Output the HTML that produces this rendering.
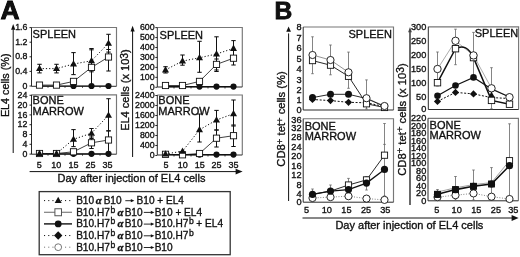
<!DOCTYPE html>
<html><head><meta charset="utf-8"><style>
html,body{margin:0;padding:0;background:#fff;}
svg{display:block;font-family:"Liberation Sans", sans-serif;will-change:transform;}
text{stroke:#111;stroke-width:0.34px;}
</style></head><body>
<svg width="520" height="257" viewBox="0 0 520 257">
<rect width="520" height="257" fill="#fff"/>
<text x="0" y="0" font-size="25" text-anchor="start" font-weight="bold" fill="#111" style="stroke:#000;stroke-width:0.8px" transform="translate(0.6,18.8) scale(1.06,1)">A</text>
<line x1="13.2" y1="29.3" x2="13.2" y2="153" stroke="#111" stroke-width="1" />
<polygon points="13.2,24.1 11.1,29.8 15.299999999999999,29.8" fill="#111"/>
<text transform="translate(8.6,85.3) rotate(-90)" font-size="10.8" text-anchor="middle" fill="#111">EL4 cells (%)</text>
<line x1="132.6" y1="30.9" x2="132.6" y2="157" stroke="#111" stroke-width="1" />
<polygon points="132.6,25.8 130.5,31.4 134.7,31.4" fill="#111"/>
<text transform="translate(128.8,90.1) rotate(-90)" font-size="11" text-anchor="middle" fill="#111">EL4 cells (x 10<tspan dy="-1.3" font-size="10.2">3</tspan><tspan dy="1.3">)</tspan></text>
<path d="M31.5,27.5 H116.5 V86.3" fill="none" stroke="#777" stroke-width="1.15"/>
<path d="M31.5,27.5 V86.3 H116.5" fill="none" stroke="#2a2a2a" stroke-width="1.0"/>
<line x1="29.5" y1="27.6" x2="31.5" y2="27.6" stroke="#111" stroke-width="0.9" />
<text x="27.4" y="30.200000000000003" font-size="8.8" text-anchor="end" font-weight="normal" fill="#111" >1.6</text>
<line x1="29.5" y1="42.2" x2="31.5" y2="42.2" stroke="#111" stroke-width="0.9" />
<text x="27.4" y="44.800000000000004" font-size="8.8" text-anchor="end" font-weight="normal" fill="#111" >1.2</text>
<line x1="29.5" y1="56.8" x2="31.5" y2="56.8" stroke="#111" stroke-width="0.9" />
<text x="27.4" y="59.4" font-size="8.8" text-anchor="end" font-weight="normal" fill="#111" >0.8</text>
<line x1="29.5" y1="71.4" x2="31.5" y2="71.4" stroke="#111" stroke-width="0.9" />
<text x="27.4" y="74.0" font-size="8.8" text-anchor="end" font-weight="normal" fill="#111" >0.4</text>
<line x1="29.5" y1="86.0" x2="31.5" y2="86.0" stroke="#111" stroke-width="0.9" />
<text x="27.4" y="88.6" font-size="8.8" text-anchor="end" font-weight="normal" fill="#111" >0</text>
<text x="32.6" y="37.6" font-size="11" text-anchor="start" font-weight="normal" fill="#111" >SPLEEN</text>
<path d="M31.5,94.8 H116.5 V154.2" fill="none" stroke="#777" stroke-width="1.15"/>
<path d="M31.5,94.8 V154.2 H116.5" fill="none" stroke="#2a2a2a" stroke-width="1.0"/>
<line x1="29.5" y1="95.3" x2="31.5" y2="95.3" stroke="#111" stroke-width="0.9" />
<text x="27.4" y="97.89999999999999" font-size="8.8" text-anchor="end" font-weight="normal" fill="#111" >24</text>
<line x1="29.5" y1="105.1" x2="31.5" y2="105.1" stroke="#111" stroke-width="0.9" />
<text x="27.4" y="107.69999999999999" font-size="8.8" text-anchor="end" font-weight="normal" fill="#111" >20</text>
<line x1="29.5" y1="114.9" x2="31.5" y2="114.9" stroke="#111" stroke-width="0.9" />
<text x="27.4" y="117.5" font-size="8.8" text-anchor="end" font-weight="normal" fill="#111" >16</text>
<line x1="29.5" y1="124.7" x2="31.5" y2="124.7" stroke="#111" stroke-width="0.9" />
<text x="27.4" y="127.3" font-size="8.8" text-anchor="end" font-weight="normal" fill="#111" >12</text>
<line x1="29.5" y1="134.5" x2="31.5" y2="134.5" stroke="#111" stroke-width="0.9" />
<text x="27.4" y="137.1" font-size="8.8" text-anchor="end" font-weight="normal" fill="#111" >8</text>
<line x1="29.5" y1="144.3" x2="31.5" y2="144.3" stroke="#111" stroke-width="0.9" />
<text x="27.4" y="146.9" font-size="8.8" text-anchor="end" font-weight="normal" fill="#111" >4</text>
<line x1="29.5" y1="154.1" x2="31.5" y2="154.1" stroke="#111" stroke-width="0.9" />
<text x="27.4" y="156.7" font-size="8.8" text-anchor="end" font-weight="normal" fill="#111" >0</text>
<text x="32.6" y="104.3" font-size="11" text-anchor="start" font-weight="normal" fill="#111" >BONE</text>
<text x="32.6" y="114.6" font-size="11" text-anchor="start" font-weight="normal" fill="#111" >MARROW</text>
<path d="M157.3,27.5 H242.3 V87.0" fill="none" stroke="#777" stroke-width="1.15"/>
<path d="M157.3,27.5 V87.0 H242.3" fill="none" stroke="#2a2a2a" stroke-width="1.0"/>
<line x1="155.3" y1="27.6" x2="157.3" y2="27.6" stroke="#111" stroke-width="0.9" />
<text x="154.6" y="30.200000000000003" font-size="8.8" text-anchor="end" font-weight="normal" fill="#111" >600</text>
<line x1="155.3" y1="37.55" x2="157.3" y2="37.55" stroke="#111" stroke-width="0.9" />
<text x="154.6" y="40.15" font-size="8.8" text-anchor="end" font-weight="normal" fill="#111" >500</text>
<line x1="155.3" y1="47.5" x2="157.3" y2="47.5" stroke="#111" stroke-width="0.9" />
<text x="154.6" y="50.1" font-size="8.8" text-anchor="end" font-weight="normal" fill="#111" >400</text>
<line x1="155.3" y1="57.45" x2="157.3" y2="57.45" stroke="#111" stroke-width="0.9" />
<text x="154.6" y="60.050000000000004" font-size="8.8" text-anchor="end" font-weight="normal" fill="#111" >300</text>
<line x1="155.3" y1="67.4" x2="157.3" y2="67.4" stroke="#111" stroke-width="0.9" />
<text x="154.6" y="70.0" font-size="8.8" text-anchor="end" font-weight="normal" fill="#111" >200</text>
<line x1="155.3" y1="77.35" x2="157.3" y2="77.35" stroke="#111" stroke-width="0.9" />
<text x="154.6" y="79.94999999999999" font-size="8.8" text-anchor="end" font-weight="normal" fill="#111" >100</text>
<line x1="155.3" y1="87.3" x2="157.3" y2="87.3" stroke="#111" stroke-width="0.9" />
<text x="154.6" y="89.89999999999999" font-size="8.8" text-anchor="end" font-weight="normal" fill="#111" >0</text>
<text x="159.6" y="39.0" font-size="11" text-anchor="start" font-weight="normal" fill="#111" >SPLEEN</text>
<path d="M157.3,95.0 H242.3 V155.0" fill="none" stroke="#777" stroke-width="1.15"/>
<path d="M157.3,95.0 V155.0 H242.3" fill="none" stroke="#2a2a2a" stroke-width="1.0"/>
<line x1="155.3" y1="95.5" x2="157.3" y2="95.5" stroke="#111" stroke-width="0.9" />
<text x="154.6" y="98.1" font-size="8.8" text-anchor="end" font-weight="normal" fill="#111" >2400</text>
<line x1="155.3" y1="105.5" x2="157.3" y2="105.5" stroke="#111" stroke-width="0.9" />
<text x="154.6" y="108.1" font-size="8.8" text-anchor="end" font-weight="normal" fill="#111" >2000</text>
<line x1="155.3" y1="115.5" x2="157.3" y2="115.5" stroke="#111" stroke-width="0.9" />
<text x="154.6" y="118.1" font-size="8.8" text-anchor="end" font-weight="normal" fill="#111" >1600</text>
<line x1="155.3" y1="125.5" x2="157.3" y2="125.5" stroke="#111" stroke-width="0.9" />
<text x="154.6" y="128.1" font-size="8.8" text-anchor="end" font-weight="normal" fill="#111" >1200</text>
<line x1="155.3" y1="135.5" x2="157.3" y2="135.5" stroke="#111" stroke-width="0.9" />
<text x="154.6" y="138.1" font-size="8.8" text-anchor="end" font-weight="normal" fill="#111" >800</text>
<line x1="155.3" y1="145.5" x2="157.3" y2="145.5" stroke="#111" stroke-width="0.9" />
<text x="154.6" y="148.1" font-size="8.8" text-anchor="end" font-weight="normal" fill="#111" >400</text>
<line x1="155.3" y1="155.5" x2="157.3" y2="155.5" stroke="#111" stroke-width="0.9" />
<text x="154.6" y="158.1" font-size="8.8" text-anchor="end" font-weight="normal" fill="#111" >0</text>
<text x="158.3" y="104.3" font-size="11" text-anchor="start" font-weight="normal" fill="#111" >BONE</text>
<text x="158.3" y="114.6" font-size="11" text-anchor="start" font-weight="normal" fill="#111" >MARROW</text>
<text x="39.3" y="168.4" font-size="9" text-anchor="middle" font-weight="normal" fill="#111" >5</text>
<text x="56.349999999999994" y="168.4" font-size="9" text-anchor="middle" font-weight="normal" fill="#111" >10</text>
<text x="73.4" y="168.4" font-size="9" text-anchor="middle" font-weight="normal" fill="#111" >15</text>
<text x="90.45" y="168.4" font-size="9" text-anchor="middle" font-weight="normal" fill="#111" >25</text>
<text x="107.5" y="168.4" font-size="9" text-anchor="middle" font-weight="normal" fill="#111" >35</text>
<text x="165.9" y="168.4" font-size="9" text-anchor="middle" font-weight="normal" fill="#111" >5</text>
<text x="182.8" y="168.4" font-size="9" text-anchor="middle" font-weight="normal" fill="#111" >10</text>
<text x="199.7" y="168.4" font-size="9" text-anchor="middle" font-weight="normal" fill="#111" >15</text>
<text x="216.6" y="168.4" font-size="9" text-anchor="middle" font-weight="normal" fill="#111" >25</text>
<text x="233.5" y="168.4" font-size="9" text-anchor="middle" font-weight="normal" fill="#111" >35</text>
<line x1="48.0" y1="86.3" x2="48.0" y2="87.8" stroke="#111" stroke-width="0.8" />
<line x1="65.0" y1="86.3" x2="65.0" y2="87.8" stroke="#111" stroke-width="0.8" />
<line x1="82.5" y1="86.3" x2="82.5" y2="87.8" stroke="#111" stroke-width="0.8" />
<line x1="100.0" y1="86.3" x2="100.0" y2="87.8" stroke="#111" stroke-width="0.8" />
<line x1="39.5" y1="86.3" x2="39.5" y2="87.8" stroke="#111" stroke-width="0.8" />
<line x1="56.5" y1="86.3" x2="56.5" y2="87.8" stroke="#111" stroke-width="0.8" />
<line x1="73.5" y1="86.3" x2="73.5" y2="87.8" stroke="#111" stroke-width="0.8" />
<line x1="91.5" y1="86.3" x2="91.5" y2="87.8" stroke="#111" stroke-width="0.8" />
<line x1="108.5" y1="86.3" x2="108.5" y2="87.8" stroke="#111" stroke-width="0.8" />
<line x1="48.0" y1="154.2" x2="48.0" y2="155.7" stroke="#111" stroke-width="0.8" />
<line x1="65.0" y1="154.2" x2="65.0" y2="155.7" stroke="#111" stroke-width="0.8" />
<line x1="82.5" y1="154.2" x2="82.5" y2="155.7" stroke="#111" stroke-width="0.8" />
<line x1="100.0" y1="154.2" x2="100.0" y2="155.7" stroke="#111" stroke-width="0.8" />
<line x1="39.5" y1="154.2" x2="39.5" y2="155.7" stroke="#111" stroke-width="0.8" />
<line x1="56.5" y1="154.2" x2="56.5" y2="155.7" stroke="#111" stroke-width="0.8" />
<line x1="73.5" y1="154.2" x2="73.5" y2="155.7" stroke="#111" stroke-width="0.8" />
<line x1="91.5" y1="154.2" x2="91.5" y2="155.7" stroke="#111" stroke-width="0.8" />
<line x1="108.5" y1="154.2" x2="108.5" y2="155.7" stroke="#111" stroke-width="0.8" />
<line x1="174.0" y1="87.0" x2="174.0" y2="88.5" stroke="#111" stroke-width="0.8" />
<line x1="191.0" y1="87.0" x2="191.0" y2="88.5" stroke="#111" stroke-width="0.8" />
<line x1="208.0" y1="87.0" x2="208.0" y2="88.5" stroke="#111" stroke-width="0.8" />
<line x1="225.0" y1="87.0" x2="225.0" y2="88.5" stroke="#111" stroke-width="0.8" />
<line x1="165.5" y1="87.0" x2="165.5" y2="88.5" stroke="#111" stroke-width="0.8" />
<line x1="182.5" y1="87.0" x2="182.5" y2="88.5" stroke="#111" stroke-width="0.8" />
<line x1="199.5" y1="87.0" x2="199.5" y2="88.5" stroke="#111" stroke-width="0.8" />
<line x1="216.5" y1="87.0" x2="216.5" y2="88.5" stroke="#111" stroke-width="0.8" />
<line x1="233.5" y1="87.0" x2="233.5" y2="88.5" stroke="#111" stroke-width="0.8" />
<line x1="174.0" y1="155.0" x2="174.0" y2="156.5" stroke="#111" stroke-width="0.8" />
<line x1="191.0" y1="155.0" x2="191.0" y2="156.5" stroke="#111" stroke-width="0.8" />
<line x1="208.0" y1="155.0" x2="208.0" y2="156.5" stroke="#111" stroke-width="0.8" />
<line x1="225.0" y1="155.0" x2="225.0" y2="156.5" stroke="#111" stroke-width="0.8" />
<line x1="165.5" y1="155.0" x2="165.5" y2="156.5" stroke="#111" stroke-width="0.8" />
<line x1="182.5" y1="155.0" x2="182.5" y2="156.5" stroke="#111" stroke-width="0.8" />
<line x1="199.5" y1="155.0" x2="199.5" y2="156.5" stroke="#111" stroke-width="0.8" />
<line x1="216.5" y1="155.0" x2="216.5" y2="156.5" stroke="#111" stroke-width="0.8" />
<line x1="233.5" y1="155.0" x2="233.5" y2="156.5" stroke="#111" stroke-width="0.8" />
<line x1="29.6" y1="171.6" x2="236.1" y2="171.6" stroke="#111" stroke-width="1" />
<polygon points="242.6,171.6 235.6,168.7 235.6,174.5" fill="#111"/>
<text x="57.5" y="181.9" font-size="11" text-anchor="start" font-weight="normal" fill="#111" >Day after injection of EL4 cells</text>
<polyline points="39.5,86 56.5,86 73.5,86 91.5,86 108.5,86" fill="none" stroke="#111" stroke-width="1.2"/>
<polyline points="39.5,85.1 56.5,85.1 73.5,81.4 91.5,67.4 108.5,57.0" fill="none" stroke="#111" stroke-width="0.8"/>
<polyline points="39.5,68.6 56.5,68.6 73.5,64.0 91.5,60.8 108.5,43.2" fill="none" stroke="#111" stroke-width="1.0" stroke-dasharray="1.2,2"/>
<line x1="39.5" y1="64.3" x2="39.5" y2="72.9" stroke="#111" stroke-width="1.05" />
<line x1="37.3" y1="64.3" x2="41.7" y2="64.3" stroke="#111" stroke-width="1.05" />
<line x1="37.3" y1="72.9" x2="41.7" y2="72.9" stroke="#111" stroke-width="1.05" />
<line x1="56.5" y1="64.3" x2="56.5" y2="72.9" stroke="#111" stroke-width="1.05" />
<line x1="54.3" y1="64.3" x2="58.7" y2="64.3" stroke="#111" stroke-width="1.05" />
<line x1="54.3" y1="72.9" x2="58.7" y2="72.9" stroke="#111" stroke-width="1.05" />
<line x1="73.5" y1="52.6" x2="73.5" y2="74.6" stroke="#111" stroke-width="1.05" />
<line x1="71.3" y1="52.6" x2="75.7" y2="52.6" stroke="#111" stroke-width="1.05" />
<line x1="71.3" y1="74.6" x2="75.7" y2="74.6" stroke="#111" stroke-width="1.05" />
<line x1="91.5" y1="49.8" x2="91.5" y2="71.8" stroke="#111" stroke-width="1.05" />
<line x1="89.3" y1="49.8" x2="93.7" y2="49.8" stroke="#111" stroke-width="1.05" />
<line x1="89.3" y1="71.8" x2="93.7" y2="71.8" stroke="#111" stroke-width="1.05" />
<line x1="108.5" y1="34.3" x2="108.5" y2="52.1" stroke="#111" stroke-width="1.05" />
<line x1="106.3" y1="34.3" x2="110.7" y2="34.3" stroke="#111" stroke-width="1.05" />
<line x1="106.3" y1="52.1" x2="110.7" y2="52.1" stroke="#111" stroke-width="1.05" />
<line x1="91.5" y1="48.5" x2="91.5" y2="86" stroke="#111" stroke-width="1.05" />
<line x1="89.3" y1="48.5" x2="93.7" y2="48.5" stroke="#111" stroke-width="1.05" />
<line x1="89.3" y1="86" x2="93.7" y2="86" stroke="#111" stroke-width="1.05" />
<line x1="108.5" y1="49.5" x2="108.5" y2="71.0" stroke="#111" stroke-width="1.05" />
<line x1="106.3" y1="49.5" x2="110.7" y2="49.5" stroke="#111" stroke-width="1.05" />
<line x1="106.3" y1="71.0" x2="110.7" y2="71.0" stroke="#111" stroke-width="1.05" />
<circle cx="73.5" cy="86" r="3.1" fill="#111"/>
<circle cx="91.5" cy="86" r="3.1" fill="#111"/>
<circle cx="108.5" cy="86" r="3.1" fill="#111"/>
<rect x="36.4" y="82.0" width="6.2" height="6.2" fill="#fff" stroke="#111" stroke-width="0.9"/>
<rect x="53.4" y="82.0" width="6.2" height="6.2" fill="#fff" stroke="#111" stroke-width="0.9"/>
<rect x="70.4" y="78.30000000000001" width="6.2" height="6.2" fill="#fff" stroke="#111" stroke-width="0.9"/>
<rect x="88.4" y="64.30000000000001" width="6.2" height="6.2" fill="#fff" stroke="#111" stroke-width="0.9"/>
<rect x="105.4" y="53.9" width="6.2" height="6.2" fill="#fff" stroke="#111" stroke-width="0.9"/>
<polygon points="39.5,64.82 36.0,71.11999999999999 43.0,71.11999999999999" fill="#111"/>
<polygon points="56.5,64.82 53.0,71.11999999999999 60.0,71.11999999999999" fill="#111"/>
<polygon points="73.5,60.22 70.0,66.52 77.0,66.52" fill="#111"/>
<polygon points="91.5,57.019999999999996 88.0,63.32 95.0,63.32" fill="#111"/>
<polygon points="108.5,39.42 105.0,45.720000000000006 112.0,45.720000000000006" fill="#111"/>
<polyline points="39.5,153.8 56.5,153.8 73.5,153.8 91.5,153.8 108.5,153.8" fill="none" stroke="#111" stroke-width="1.2"/>
<polyline points="39.5,153.5 56.5,153.5 73.5,151.8 91.5,142.8 108.5,140.0" fill="none" stroke="#111" stroke-width="0.8"/>
<polyline points="39.5,153.5 56.5,153.5 73.5,139.3 91.5,133.2 108.5,115.2" fill="none" stroke="#111" stroke-width="1.0" stroke-dasharray="1.2,2"/>
<line x1="73.5" y1="129.6" x2="73.5" y2="146.6" stroke="#111" stroke-width="1.05" />
<line x1="71.3" y1="129.6" x2="75.7" y2="129.6" stroke="#111" stroke-width="1.05" />
<line x1="71.3" y1="146.6" x2="75.7" y2="146.6" stroke="#111" stroke-width="1.05" />
<line x1="91.5" y1="128.5" x2="91.5" y2="138.5" stroke="#111" stroke-width="1.05" />
<line x1="89.3" y1="128.5" x2="93.7" y2="128.5" stroke="#111" stroke-width="1.05" />
<line x1="89.3" y1="138.5" x2="93.7" y2="138.5" stroke="#111" stroke-width="1.05" />
<line x1="108.5" y1="98.7" x2="108.5" y2="131.0" stroke="#111" stroke-width="1.05" />
<line x1="106.3" y1="98.7" x2="110.7" y2="98.7" stroke="#111" stroke-width="1.05" />
<line x1="106.3" y1="131.0" x2="110.7" y2="131.0" stroke="#111" stroke-width="1.05" />
<line x1="91.5" y1="137" x2="91.5" y2="148.5" stroke="#111" stroke-width="1.05" />
<line x1="89.3" y1="137" x2="93.7" y2="137" stroke="#111" stroke-width="1.05" />
<line x1="89.3" y1="148.5" x2="93.7" y2="148.5" stroke="#111" stroke-width="1.05" />
<line x1="108.5" y1="130.7" x2="108.5" y2="153.5" stroke="#111" stroke-width="1.05" />
<line x1="106.3" y1="130.7" x2="110.7" y2="130.7" stroke="#111" stroke-width="1.05" />
<line x1="106.3" y1="153.5" x2="110.7" y2="153.5" stroke="#111" stroke-width="1.05" />
<circle cx="73.5" cy="153.8" r="3.1" fill="#111"/>
<circle cx="91.5" cy="153.8" r="3.1" fill="#111"/>
<circle cx="108.5" cy="153.8" r="3.1" fill="#111"/>
<rect x="36.4" y="150.4" width="6.2" height="6.2" fill="#fff" stroke="#111" stroke-width="0.9"/>
<rect x="53.4" y="150.4" width="6.2" height="6.2" fill="#fff" stroke="#111" stroke-width="0.9"/>
<rect x="70.4" y="148.70000000000002" width="6.2" height="6.2" fill="#fff" stroke="#111" stroke-width="0.9"/>
<rect x="88.4" y="139.70000000000002" width="6.2" height="6.2" fill="#fff" stroke="#111" stroke-width="0.9"/>
<rect x="105.4" y="136.9" width="6.2" height="6.2" fill="#fff" stroke="#111" stroke-width="0.9"/>
<polygon points="39.5,149.72 36.0,156.02 43.0,156.02" fill="#111"/>
<polygon points="56.5,149.72 53.0,156.02 60.0,156.02" fill="#111"/>
<polygon points="73.5,135.52 70.0,141.82000000000002 77.0,141.82000000000002" fill="#111"/>
<polygon points="91.5,129.42 88.0,135.72 95.0,135.72" fill="#111"/>
<polygon points="108.5,111.42 105.0,117.72 112.0,117.72" fill="#111"/>
<polyline points="165.5,86.6 182.5,86.6 199.5,86.6 216.5,86.6 233.5,86.6" fill="none" stroke="#111" stroke-width="1.2"/>
<polyline points="165.5,85.5 182.5,85.5 199.5,81.4 216.5,64.4 233.5,58.2" fill="none" stroke="#111" stroke-width="0.8"/>
<polyline points="165.5,69.9 182.5,61.1 199.5,57.75 216.5,54.0 233.5,48.4" fill="none" stroke="#111" stroke-width="1.0" stroke-dasharray="1.2,2"/>
<line x1="165.5" y1="66.7" x2="165.5" y2="73.0" stroke="#111" stroke-width="1.05" />
<line x1="163.3" y1="66.7" x2="167.7" y2="66.7" stroke="#111" stroke-width="1.05" />
<line x1="163.3" y1="73.0" x2="167.7" y2="73.0" stroke="#111" stroke-width="1.05" />
<line x1="182.5" y1="55.0" x2="182.5" y2="65.2" stroke="#111" stroke-width="1.05" />
<line x1="180.3" y1="55.0" x2="184.7" y2="55.0" stroke="#111" stroke-width="1.05" />
<line x1="180.3" y1="65.2" x2="184.7" y2="65.2" stroke="#111" stroke-width="1.05" />
<line x1="199.5" y1="41.3" x2="199.5" y2="72.3" stroke="#111" stroke-width="1.05" />
<line x1="197.3" y1="41.3" x2="201.7" y2="41.3" stroke="#111" stroke-width="1.05" />
<line x1="197.3" y1="72.3" x2="201.7" y2="72.3" stroke="#111" stroke-width="1.05" />
<line x1="216.5" y1="36.8" x2="216.5" y2="71.5" stroke="#111" stroke-width="1.05" />
<line x1="214.3" y1="36.8" x2="218.7" y2="36.8" stroke="#111" stroke-width="1.05" />
<line x1="214.3" y1="71.5" x2="218.7" y2="71.5" stroke="#111" stroke-width="1.05" />
<line x1="233.5" y1="40.6" x2="233.5" y2="56.0" stroke="#111" stroke-width="1.05" />
<line x1="231.3" y1="40.6" x2="235.7" y2="40.6" stroke="#111" stroke-width="1.05" />
<line x1="231.3" y1="56.0" x2="235.7" y2="56.0" stroke="#111" stroke-width="1.05" />
<line x1="216.5" y1="59.0" x2="216.5" y2="70.0" stroke="#111" stroke-width="1.05" />
<line x1="214.3" y1="59.0" x2="218.7" y2="59.0" stroke="#111" stroke-width="1.05" />
<line x1="214.3" y1="70.0" x2="218.7" y2="70.0" stroke="#111" stroke-width="1.05" />
<line x1="233.5" y1="50.3" x2="233.5" y2="65.0" stroke="#111" stroke-width="1.05" />
<line x1="231.3" y1="50.3" x2="235.7" y2="50.3" stroke="#111" stroke-width="1.05" />
<line x1="231.3" y1="65.0" x2="235.7" y2="65.0" stroke="#111" stroke-width="1.05" />
<circle cx="199.5" cy="86.6" r="3.1" fill="#111"/>
<circle cx="216.5" cy="86.6" r="3.1" fill="#111"/>
<circle cx="233.5" cy="86.6" r="3.1" fill="#111"/>
<rect x="162.4" y="82.4" width="6.2" height="6.2" fill="#fff" stroke="#111" stroke-width="0.9"/>
<rect x="179.4" y="82.4" width="6.2" height="6.2" fill="#fff" stroke="#111" stroke-width="0.9"/>
<rect x="196.4" y="78.30000000000001" width="6.2" height="6.2" fill="#fff" stroke="#111" stroke-width="0.9"/>
<rect x="213.4" y="61.300000000000004" width="6.2" height="6.2" fill="#fff" stroke="#111" stroke-width="0.9"/>
<rect x="230.4" y="55.1" width="6.2" height="6.2" fill="#fff" stroke="#111" stroke-width="0.9"/>
<polygon points="165.5,66.12 162.0,72.42 169.0,72.42" fill="#111"/>
<polygon points="182.5,57.32 179.0,63.620000000000005 186.0,63.620000000000005" fill="#111"/>
<polygon points="199.5,53.97 196.0,60.27 203.0,60.27" fill="#111"/>
<polygon points="216.5,50.22 213.0,56.52 220.0,56.52" fill="#111"/>
<polygon points="233.5,44.62 230.0,50.92 237.0,50.92" fill="#111"/>
<polyline points="165.5,154.6 182.5,154.6 199.5,154.6 216.5,154.6 233.5,154.6" fill="none" stroke="#111" stroke-width="1.2"/>
<polyline points="165.5,154.3 182.5,154.8 199.5,153.5 216.5,138.2 233.5,135.7" fill="none" stroke="#111" stroke-width="0.8"/>
<polyline points="165.5,154.0 182.5,151.2 199.5,129.8 216.5,120.0 233.5,113.7" fill="none" stroke="#111" stroke-width="1.0" stroke-dasharray="1.2,2"/>
<line x1="199.5" y1="114.0" x2="199.5" y2="142.0" stroke="#111" stroke-width="1.05" />
<line x1="197.3" y1="114.0" x2="201.7" y2="114.0" stroke="#111" stroke-width="1.05" />
<line x1="197.3" y1="142.0" x2="201.7" y2="142.0" stroke="#111" stroke-width="1.05" />
<line x1="216.5" y1="110.4" x2="216.5" y2="130.0" stroke="#111" stroke-width="1.05" />
<line x1="214.3" y1="110.4" x2="218.7" y2="110.4" stroke="#111" stroke-width="1.05" />
<line x1="214.3" y1="130.0" x2="218.7" y2="130.0" stroke="#111" stroke-width="1.05" />
<line x1="233.5" y1="100.0" x2="233.5" y2="126.0" stroke="#111" stroke-width="1.05" />
<line x1="231.3" y1="100.0" x2="235.7" y2="100.0" stroke="#111" stroke-width="1.05" />
<line x1="231.3" y1="126.0" x2="235.7" y2="126.0" stroke="#111" stroke-width="1.05" />
<line x1="216.5" y1="130.0" x2="216.5" y2="147.0" stroke="#111" stroke-width="1.05" />
<line x1="214.3" y1="130.0" x2="218.7" y2="130.0" stroke="#111" stroke-width="1.05" />
<line x1="214.3" y1="147.0" x2="218.7" y2="147.0" stroke="#111" stroke-width="1.05" />
<line x1="233.5" y1="125.0" x2="233.5" y2="146.5" stroke="#111" stroke-width="1.05" />
<line x1="231.3" y1="125.0" x2="235.7" y2="125.0" stroke="#111" stroke-width="1.05" />
<line x1="231.3" y1="146.5" x2="235.7" y2="146.5" stroke="#111" stroke-width="1.05" />
<circle cx="199.5" cy="154.6" r="3.1" fill="#111"/>
<circle cx="216.5" cy="154.6" r="3.1" fill="#111"/>
<circle cx="233.5" cy="154.6" r="3.1" fill="#111"/>
<rect x="162.4" y="151.20000000000002" width="6.2" height="6.2" fill="#fff" stroke="#111" stroke-width="0.9"/>
<rect x="179.4" y="151.70000000000002" width="6.2" height="6.2" fill="#fff" stroke="#111" stroke-width="0.9"/>
<rect x="196.4" y="150.4" width="6.2" height="6.2" fill="#fff" stroke="#111" stroke-width="0.9"/>
<rect x="213.4" y="135.1" width="6.2" height="6.2" fill="#fff" stroke="#111" stroke-width="0.9"/>
<rect x="230.4" y="132.6" width="6.2" height="6.2" fill="#fff" stroke="#111" stroke-width="0.9"/>
<polygon points="165.5,150.22 162.0,156.52 169.0,156.52" fill="#111"/>
<polygon points="182.5,147.42 179.0,153.72 186.0,153.72" fill="#111"/>
<polygon points="199.5,126.02000000000001 196.0,132.32000000000002 203.0,132.32000000000002" fill="#111"/>
<polygon points="216.5,116.22 213.0,122.52 220.0,122.52" fill="#111"/>
<polygon points="233.5,109.92 230.0,116.22 237.0,116.22" fill="#111"/>
<rect x="39.2" y="191.6" width="191.0" height="63.099999999999994" fill="none" stroke="#333" stroke-width="1.3"/>
<line x1="44" y1="200.6" x2="72" y2="200.6" stroke="#111" stroke-width="1" stroke-dasharray="1.1,3.1" />
<polygon points="58.2,196.82 54.7,203.12 61.7,203.12" fill="#111"/>
<line x1="44" y1="212.25" x2="72" y2="212.25" stroke="#555" stroke-width="0.9" />
<rect x="54.900000000000006" y="208.75" width="6.6" height="7" fill="#fff" stroke="#555" stroke-width="1"/>
<line x1="44" y1="223.9" x2="72" y2="223.9" stroke="#111" stroke-width="1.4" />
<circle cx="58.2" cy="223.9" r="3.4" fill="#111"/>
<line x1="44" y1="235.55" x2="72" y2="235.55" stroke="#111" stroke-width="1" stroke-dasharray="1.1,3.1" />
<polygon points="58.2,231.35000000000002 62.400000000000006,235.55 58.2,239.75 54.0,235.55" fill="#111"/>
<line x1="44" y1="247.2" x2="72" y2="247.2" stroke="#777" stroke-width="1" stroke-dasharray="1.1,3.1" />
<circle cx="58.2" cy="247.2" r="3.4" fill="#fff" stroke="#777" stroke-width="1"/>
<text x="76.15" y="204.0" font-size="10.1" text-anchor="start" font-weight="normal" fill="#111" >B10</text>
<text x="95.7" y="203.8" font-size="10.8" font-family="Liberation Serif" font-weight="bold" font-style="italic" fill="#111">α</text>
<text x="103.65" y="204.0" font-size="10.1" text-anchor="start" font-weight="normal" fill="#111" >B10</text>
<line x1="125.3" y1="200.7" x2="131.4" y2="200.7" stroke="#111" stroke-width="0.9" />
<polygon points="134.4,200.7 130.8,199.1 130.8,202.29999999999998" fill="#111"/>
<text x="136.55" y="204.0" font-size="10.1" text-anchor="start" font-weight="normal" fill="#111" >B10 + EL4</text>
<text x="76.15" y="215.7" font-size="10.1" text-anchor="start" font-weight="normal" fill="#111" >B10.H7</text>
<text x="110.6" y="212.5" font-size="8.6" text-anchor="start" font-weight="normal" fill="#111" >b</text>
<text x="117.5" y="215.5" font-size="10.8" font-family="Liberation Serif" font-weight="bold" font-style="italic" fill="#111">α</text>
<text x="124.65" y="215.7" font-size="10.1" text-anchor="start" font-weight="normal" fill="#111" >B10</text>
<line x1="143.8" y1="212.39999999999998" x2="151.4" y2="212.39999999999998" stroke="#111" stroke-width="0.9" />
<polygon points="154.4,212.39999999999998 150.8,210.79999999999998 150.8,213.99999999999997" fill="#111"/>
<text x="76.15" y="227.4" font-size="10.1" text-anchor="start" font-weight="normal" fill="#111" >B10.H7</text>
<text x="110.6" y="224.20000000000002" font-size="8.6" text-anchor="start" font-weight="normal" fill="#111" >b</text>
<text x="117.5" y="227.20000000000002" font-size="10.8" font-family="Liberation Serif" font-weight="bold" font-style="italic" fill="#111">α</text>
<text x="124.65" y="227.4" font-size="10.1" text-anchor="start" font-weight="normal" fill="#111" >B10</text>
<line x1="143.8" y1="224.1" x2="151.4" y2="224.1" stroke="#111" stroke-width="0.9" />
<polygon points="154.4,224.1 150.8,222.5 150.8,225.7" fill="#111"/>
<text x="76.15" y="239.1" font-size="10.1" text-anchor="start" font-weight="normal" fill="#111" >B10.H7</text>
<text x="110.6" y="235.9" font-size="8.6" text-anchor="start" font-weight="normal" fill="#111" >b</text>
<text x="117.5" y="238.9" font-size="10.8" font-family="Liberation Serif" font-weight="bold" font-style="italic" fill="#111">α</text>
<text x="124.65" y="239.1" font-size="10.1" text-anchor="start" font-weight="normal" fill="#111" >B10</text>
<line x1="143.8" y1="235.79999999999998" x2="151.4" y2="235.79999999999998" stroke="#111" stroke-width="0.9" />
<polygon points="154.4,235.79999999999998 150.8,234.2 150.8,237.39999999999998" fill="#111"/>
<text x="76.15" y="250.8" font-size="10.1" text-anchor="start" font-weight="normal" fill="#111" >B10.H7</text>
<text x="110.6" y="247.60000000000002" font-size="8.6" text-anchor="start" font-weight="normal" fill="#111" >b</text>
<text x="117.5" y="250.60000000000002" font-size="10.8" font-family="Liberation Serif" font-weight="bold" font-style="italic" fill="#111">α</text>
<text x="124.65" y="250.8" font-size="10.1" text-anchor="start" font-weight="normal" fill="#111" >B10</text>
<line x1="143.8" y1="247.5" x2="151.4" y2="247.5" stroke="#111" stroke-width="0.9" />
<polygon points="154.4,247.5 150.8,245.9 150.8,249.1" fill="#111"/>
<text x="154.65" y="215.7" font-size="10.1" text-anchor="start" font-weight="normal" fill="#111" >B10 + EL4</text>
<text x="154.65" y="227.4" font-size="10.1" text-anchor="start" font-weight="normal" fill="#111" >B10.H7</text>
<text x="189.1" y="224.20000000000002" font-size="8.6" text-anchor="start" font-weight="normal" fill="#111" >b</text>
<text x="196.35" y="227.4" font-size="10.1" text-anchor="start" font-weight="normal" fill="#111" >+ EL4</text>
<text x="154.65" y="239.1" font-size="10.1" text-anchor="start" font-weight="normal" fill="#111" >B10.H7</text>
<text x="189.1" y="235.9" font-size="8.6" text-anchor="start" font-weight="normal" fill="#111" >b</text>
<text x="154.65" y="250.8" font-size="10.1" text-anchor="start" font-weight="normal" fill="#111" >B10</text>
<text x="274.6" y="19.0" font-size="24.6" text-anchor="start" font-weight="bold" fill="#111" style="stroke:#000;stroke-width:0.8px">B</text>
<line x1="288.6" y1="33.4" x2="288.6" y2="201" stroke="#111" stroke-width="1" />
<polygon points="288.6,26.6 286.25,31.8 290.95000000000005,31.8" fill="#111"/>
<text transform="translate(285.0,118.9) rotate(-90)" font-size="11.25" text-anchor="middle" fill="#111">CD8<tspan dy="-2.5" font-size="9.5">+</tspan><tspan dy="2.5"> tet</tspan><tspan dy="-2.5" font-size="9.5">+</tspan><tspan dy="2.5"> cells (%)</tspan></text>
<line x1="410.0" y1="31.700000000000003" x2="410.0" y2="205" stroke="#444" stroke-width="1.6" />
<polygon points="410.0,27.0 408.1,32.2 411.9,32.2" fill="#444"/>
<text transform="translate(405.6,119.6) rotate(-90)" font-size="11.25" text-anchor="middle" fill="#111">CD8<tspan dy="-2.5" font-size="9.5">+</tspan><tspan dy="2.5"> tet</tspan><tspan dy="-2.5" font-size="9.5">+</tspan><tspan dy="2.5"> cells (x 10</tspan><tspan dy="-1.3" font-size="10.2">3</tspan><tspan dy="1.3">)</tspan></text>
<path d="M303.2,27.0 H393.5 V110.0" fill="none" stroke="#777" stroke-width="1.15"/>
<path d="M303.2,27.0 V110.0 H393.5" fill="none" stroke="#2a2a2a" stroke-width="1.0"/>
<text x="301.6" y="30.35" font-size="9.2" text-anchor="end" font-weight="normal" fill="#111" >8</text>
<text x="301.6" y="40.7" font-size="9.2" text-anchor="end" font-weight="normal" fill="#111" >7</text>
<text x="301.6" y="51.35" font-size="9.2" text-anchor="end" font-weight="normal" fill="#111" >6</text>
<text x="301.6" y="62.1" font-size="9.2" text-anchor="end" font-weight="normal" fill="#111" >5</text>
<text x="301.6" y="72.35" font-size="9.2" text-anchor="end" font-weight="normal" fill="#111" >4</text>
<text x="301.6" y="82.69999999999999" font-size="9.2" text-anchor="end" font-weight="normal" fill="#111" >3</text>
<text x="301.6" y="93.3" font-size="9.2" text-anchor="end" font-weight="normal" fill="#111" >2</text>
<text x="301.6" y="103.3" font-size="9.2" text-anchor="end" font-weight="normal" fill="#111" >1</text>
<text x="301.6" y="112.85" font-size="9.2" text-anchor="end" font-weight="normal" fill="#111" >0</text>
<text x="391.9" y="38.0" font-size="11" text-anchor="end" font-weight="normal" fill="#111" >SPLEEN</text>
<path d="M303.2,118.7 H393.5 V202.2" fill="none" stroke="#777" stroke-width="1.15"/>
<path d="M303.2,118.7 V202.2 H393.5" fill="none" stroke="#2a2a2a" stroke-width="1.0"/>
<text x="301.6" y="122.85" font-size="9.2" text-anchor="end" font-weight="normal" fill="#111" >36</text>
<text x="301.6" y="131.0" font-size="9.2" text-anchor="end" font-weight="normal" fill="#111" >32</text>
<text x="301.6" y="140.0" font-size="9.2" text-anchor="end" font-weight="normal" fill="#111" >28</text>
<text x="301.6" y="150.1" font-size="9.2" text-anchor="end" font-weight="normal" fill="#111" >24</text>
<text x="301.6" y="159.2" font-size="9.2" text-anchor="end" font-weight="normal" fill="#111" >20</text>
<text x="301.6" y="168.6" font-size="9.2" text-anchor="end" font-weight="normal" fill="#111" >16</text>
<text x="301.6" y="178.1" font-size="9.2" text-anchor="end" font-weight="normal" fill="#111" >12</text>
<text x="301.6" y="187.7" font-size="9.2" text-anchor="end" font-weight="normal" fill="#111" >8</text>
<text x="301.6" y="196.7" font-size="9.2" text-anchor="end" font-weight="normal" fill="#111" >4</text>
<text x="301.6" y="205.2" font-size="9.2" text-anchor="end" font-weight="normal" fill="#111" >0</text>
<text x="304.7" y="130.0" font-size="11" text-anchor="start" font-weight="normal" fill="#111" >BONE</text>
<text x="304.7" y="140.3" font-size="11" text-anchor="start" font-weight="normal" fill="#111" >MARROW</text>
<path d="M428.3,26.8 H518.6 V109.5" fill="none" stroke="#777" stroke-width="1.15"/>
<path d="M428.3,26.8 V109.5 H518.6" fill="none" stroke="#2a2a2a" stroke-width="1.0"/>
<text x="426.3" y="30.35" font-size="9.2" text-anchor="end" font-weight="normal" fill="#111" >300</text>
<text x="426.3" y="43.85" font-size="9.2" text-anchor="end" font-weight="normal" fill="#111" >250</text>
<text x="426.3" y="57.7" font-size="9.2" text-anchor="end" font-weight="normal" fill="#111" >200</text>
<text x="426.3" y="72.1" font-size="9.2" text-anchor="end" font-weight="normal" fill="#111" >150</text>
<text x="426.3" y="85.85" font-size="9.2" text-anchor="end" font-weight="normal" fill="#111" >100</text>
<text x="426.3" y="99.5" font-size="9.2" text-anchor="end" font-weight="normal" fill="#111" >50</text>
<text x="426.3" y="112.19999999999999" font-size="9.2" text-anchor="end" font-weight="normal" fill="#111" >0</text>
<text x="518.2" y="36.9" font-size="11" text-anchor="end" font-weight="normal" fill="#111" >SPLEEN</text>
<path d="M428.0,118.3 H518.4 V200.8" fill="none" stroke="#777" stroke-width="1.15"/>
<path d="M428.0,118.3 V200.8 H518.4" fill="none" stroke="#2a2a2a" stroke-width="1.0"/>
<text x="426.3" y="121.19999999999999" font-size="9.2" text-anchor="end" font-weight="normal" fill="#111" >220</text>
<text x="426.3" y="128.7" font-size="9.2" text-anchor="end" font-weight="normal" fill="#111" >200</text>
<text x="426.3" y="136.2" font-size="9.2" text-anchor="end" font-weight="normal" fill="#111" >180</text>
<text x="426.3" y="143.7" font-size="9.2" text-anchor="end" font-weight="normal" fill="#111" >160</text>
<text x="426.3" y="151.2" font-size="9.2" text-anchor="end" font-weight="normal" fill="#111" >140</text>
<text x="426.3" y="158.7" font-size="9.2" text-anchor="end" font-weight="normal" fill="#111" >120</text>
<text x="426.3" y="166.2" font-size="9.2" text-anchor="end" font-weight="normal" fill="#111" >100</text>
<text x="426.3" y="173.7" font-size="9.2" text-anchor="end" font-weight="normal" fill="#111" >80</text>
<text x="426.3" y="181.2" font-size="9.2" text-anchor="end" font-weight="normal" fill="#111" >60</text>
<text x="426.3" y="188.7" font-size="9.2" text-anchor="end" font-weight="normal" fill="#111" >40</text>
<text x="426.3" y="196.2" font-size="9.2" text-anchor="end" font-weight="normal" fill="#111" >20</text>
<text x="426.3" y="203.7" font-size="9.2" text-anchor="end" font-weight="normal" fill="#111" >0</text>
<text x="429.6" y="129.1" font-size="11" text-anchor="start" font-weight="normal" fill="#111" >BONE</text>
<text x="429.6" y="139.3" font-size="11" text-anchor="start" font-weight="normal" fill="#111" >MARROW</text>
<text x="306.6" y="213.0" font-size="9.2" text-anchor="middle" font-weight="normal" fill="#111" >5</text>
<text x="326.8" y="213.0" font-size="9.2" text-anchor="middle" font-weight="normal" fill="#111" >10</text>
<text x="346.4" y="213.0" font-size="9.2" text-anchor="middle" font-weight="normal" fill="#111" >15</text>
<text x="366.0" y="213.0" font-size="9.2" text-anchor="middle" font-weight="normal" fill="#111" >25</text>
<text x="385.3" y="213.0" font-size="9.2" text-anchor="middle" font-weight="normal" fill="#111" >35</text>
<text x="436.7" y="213.0" font-size="9.2" text-anchor="middle" font-weight="normal" fill="#111" >5</text>
<text x="456.7" y="213.0" font-size="9.2" text-anchor="middle" font-weight="normal" fill="#111" >10</text>
<text x="476.3" y="213.0" font-size="9.2" text-anchor="middle" font-weight="normal" fill="#111" >15</text>
<text x="495.9" y="213.0" font-size="9.2" text-anchor="middle" font-weight="normal" fill="#111" >25</text>
<text x="513.3" y="213.0" font-size="9.2" text-anchor="middle" font-weight="normal" fill="#111" >35</text>
<line x1="302.5" y1="218.0" x2="512.1" y2="218.0" stroke="#111" stroke-width="1" />
<polygon points="518.6,218.0 511.6,215.1 511.6,220.9" fill="#111"/>
<text x="335.4" y="228.7" font-size="11" text-anchor="start" font-weight="normal" fill="#111" >Day after injection of EL4 cells</text>
<line x1="312.5" y1="36.8" x2="312.5" y2="73.7" stroke="#666" stroke-width="0.8" />
<line x1="311.2" y1="36.8" x2="313.8" y2="36.8" stroke="#666" stroke-width="0.8" />
<line x1="311.2" y1="73.7" x2="313.8" y2="73.7" stroke="#666" stroke-width="0.8" />
<line x1="330.5" y1="45.0" x2="330.5" y2="74.8" stroke="#666" stroke-width="0.8" />
<line x1="329.2" y1="45.0" x2="331.8" y2="45.0" stroke="#666" stroke-width="0.8" />
<line x1="329.2" y1="74.8" x2="331.8" y2="74.8" stroke="#666" stroke-width="0.8" />
<line x1="348.5" y1="52.1" x2="348.5" y2="88.3" stroke="#666" stroke-width="0.8" />
<line x1="347.2" y1="52.1" x2="349.8" y2="52.1" stroke="#666" stroke-width="0.8" />
<line x1="347.2" y1="88.3" x2="349.8" y2="88.3" stroke="#666" stroke-width="0.8" />
<line x1="366.5" y1="79.9" x2="366.5" y2="109" stroke="#666" stroke-width="0.8" />
<line x1="365.2" y1="79.9" x2="367.8" y2="79.9" stroke="#666" stroke-width="0.8" />
<line x1="365.2" y1="109" x2="367.8" y2="109" stroke="#666" stroke-width="0.8" />
<polyline points="312.5,55.0 330.5,60.0 348.5,72.3" fill="none" stroke="#777" stroke-width="0.8"/>
<polyline points="366.5,98.2 384.5,106.0" fill="none" stroke="#777" stroke-width="0.8"/>
<polyline points="312.5,60.6 330.5,65.2 348.5,76.3 366.5,103.8 384.5,107.5" fill="none" stroke="#111" stroke-width="0.9"/>
<polyline points="312.5,97.6 330.5,94.3 348.5,94.3 366.5,98.5 384.5,106.5" fill="none" stroke="#111" stroke-width="0.9"/>
<polyline points="312.5,99.5 330.5,100.6 348.5,102.3 366.5,102.8 384.5,106.5" fill="none" stroke="#111" stroke-width="1.0" stroke-dasharray="2,1.6"/>
<polygon points="312.5,95.9 316.1,99.5 312.5,103.1 308.9,99.5" fill="#111"/>
<polygon points="330.5,97.0 334.1,100.6 330.5,104.19999999999999 326.9,100.6" fill="#111"/>
<polygon points="348.5,98.7 352.1,102.3 348.5,105.89999999999999 344.9,102.3" fill="#111"/>
<polygon points="366.5,99.2 370.1,102.8 366.5,106.39999999999999 362.9,102.8" fill="#111"/>
<polygon points="384.5,102.9 388.1,106.5 384.5,110.1 380.9,106.5" fill="#111"/>
<circle cx="312.5" cy="97.6" r="3.5" fill="#111"/>
<circle cx="330.5" cy="94.3" r="3.5" fill="#111"/>
<circle cx="348.5" cy="94.3" r="3.5" fill="#111"/>
<circle cx="366.5" cy="98.5" r="3.5" fill="#111"/>
<circle cx="384.5" cy="106.5" r="3.5" fill="#111"/>
<rect x="309.4" y="57.5" width="6.2" height="6.2" fill="#fff" stroke="#111" stroke-width="0.9"/>
<rect x="327.4" y="62.1" width="6.2" height="6.2" fill="#fff" stroke="#111" stroke-width="0.9"/>
<rect x="345.4" y="73.2" width="6.2" height="6.2" fill="#fff" stroke="#111" stroke-width="0.9"/>
<rect x="363.4" y="100.7" width="6.2" height="6.2" fill="#fff" stroke="#111" stroke-width="0.9"/>
<rect x="381.4" y="104.4" width="6.2" height="6.2" fill="#fff" stroke="#111" stroke-width="0.9"/>
<circle cx="312.5" cy="55.0" r="3.6" fill="#fff" stroke="#111" stroke-width="0.9"/>
<circle cx="330.5" cy="60.0" r="3.6" fill="#fff" stroke="#111" stroke-width="0.9"/>
<circle cx="348.5" cy="72.3" r="3.6" fill="#fff" stroke="#111" stroke-width="0.9"/>
<circle cx="366.5" cy="98.2" r="3.6" fill="#fff" stroke="#111" stroke-width="0.9"/>
<circle cx="384.5" cy="106.0" r="3.6" fill="#fff" stroke="#111" stroke-width="0.9"/>
<line x1="312.5" y1="189.0" x2="312.5" y2="199" stroke="#666" stroke-width="0.8" />
<line x1="311.2" y1="189.0" x2="313.8" y2="189.0" stroke="#666" stroke-width="0.8" />
<line x1="311.2" y1="199" x2="313.8" y2="199" stroke="#666" stroke-width="0.8" />
<line x1="330.5" y1="185.0" x2="330.5" y2="196" stroke="#666" stroke-width="0.8" />
<line x1="329.2" y1="185.0" x2="331.8" y2="185.0" stroke="#666" stroke-width="0.8" />
<line x1="329.2" y1="196" x2="331.8" y2="196" stroke="#666" stroke-width="0.8" />
<line x1="348.5" y1="178.4" x2="348.5" y2="192" stroke="#666" stroke-width="0.8" />
<line x1="347.2" y1="178.4" x2="349.8" y2="178.4" stroke="#666" stroke-width="0.8" />
<line x1="347.2" y1="192" x2="349.8" y2="192" stroke="#666" stroke-width="0.8" />
<line x1="366.5" y1="176.5" x2="366.5" y2="190" stroke="#666" stroke-width="0.8" />
<line x1="365.2" y1="176.5" x2="367.8" y2="176.5" stroke="#666" stroke-width="0.8" />
<line x1="365.2" y1="190" x2="367.8" y2="190" stroke="#666" stroke-width="0.8" />
<line x1="384.5" y1="123.5" x2="384.5" y2="196" stroke="#666" stroke-width="0.8" />
<line x1="383.2" y1="123.5" x2="385.8" y2="123.5" stroke="#666" stroke-width="0.8" />
<line x1="383.2" y1="196" x2="385.8" y2="196" stroke="#666" stroke-width="0.8" />
<line x1="383.2" y1="144.4" x2="385.8" y2="144.4" stroke="#666" stroke-width="0.8" />
<polyline points="312.5,198.0 330.5,197.1 348.5,196.2 366.5,198.6 384.5,199.9" fill="none" stroke="#777" stroke-width="0.9" stroke-dasharray="1,1.6"/>
<polyline points="312.5,194.3 330.5,191.1 348.5,185.0 366.5,179.9 384.5,155.2" fill="none" stroke="#111" stroke-width="0.9"/>
<polyline points="312.5,194.3 330.5,191.1 348.5,189.6 366.5,183.1 384.5,169.4" fill="none" stroke="#111" stroke-width="1.3"/>
<circle cx="312.5" cy="198.0" r="3.6" fill="#fff" stroke="#111" stroke-width="0.9"/>
<circle cx="330.5" cy="197.1" r="3.6" fill="#fff" stroke="#111" stroke-width="0.9"/>
<circle cx="348.5" cy="196.2" r="3.6" fill="#fff" stroke="#111" stroke-width="0.9"/>
<circle cx="366.5" cy="198.6" r="3.6" fill="#fff" stroke="#111" stroke-width="0.9"/>
<circle cx="384.5" cy="199.9" r="3.6" fill="#fff" stroke="#111" stroke-width="0.9"/>
<rect x="345.4" y="181.9" width="6.2" height="6.2" fill="#fff" stroke="#111" stroke-width="0.9"/>
<rect x="363.4" y="176.8" width="6.2" height="6.2" fill="#fff" stroke="#111" stroke-width="0.9"/>
<rect x="381.4" y="152.1" width="6.2" height="6.2" fill="#fff" stroke="#111" stroke-width="0.9"/>
<circle cx="312.5" cy="194.3" r="3.6" fill="#111"/>
<circle cx="330.5" cy="191.1" r="3.6" fill="#111"/>
<circle cx="348.5" cy="189.6" r="3.6" fill="#111"/>
<circle cx="366.5" cy="183.1" r="3.6" fill="#111"/>
<circle cx="384.5" cy="169.4" r="3.6" fill="#111"/>
<line x1="437.5" y1="52.0" x2="437.5" y2="86.0" stroke="#666" stroke-width="0.8" />
<line x1="436.2" y1="52.0" x2="438.8" y2="52.0" stroke="#666" stroke-width="0.8" />
<line x1="436.2" y1="86.0" x2="438.8" y2="86.0" stroke="#666" stroke-width="0.8" />
<line x1="455.5" y1="29.2" x2="455.5" y2="64.7" stroke="#666" stroke-width="0.8" />
<line x1="454.2" y1="29.2" x2="456.8" y2="29.2" stroke="#666" stroke-width="0.8" />
<line x1="454.2" y1="64.7" x2="456.8" y2="64.7" stroke="#666" stroke-width="0.8" />
<line x1="473.5" y1="32.4" x2="473.5" y2="78.0" stroke="#666" stroke-width="0.8" />
<line x1="472.2" y1="32.4" x2="474.8" y2="32.4" stroke="#666" stroke-width="0.8" />
<line x1="472.2" y1="78.0" x2="474.8" y2="78.0" stroke="#666" stroke-width="0.8" />
<line x1="491.5" y1="67.7" x2="491.5" y2="108.8" stroke="#666" stroke-width="0.8" />
<line x1="490.2" y1="67.7" x2="492.8" y2="67.7" stroke="#666" stroke-width="0.8" />
<line x1="490.2" y1="108.8" x2="492.8" y2="108.8" stroke="#666" stroke-width="0.8" />
<polyline points="437.5,69.0 455.5,40.8 473.5,55.4 491.5,88.3 509.5,97.2" fill="none" stroke="#888" stroke-width="0.7"/>
<path d="M437.5,82.7 L455.5,48.7 Q466.5,42.7 473.5,57.6 L491.5,100.4 L509.5,104.2" fill="none" stroke="#111" stroke-width="1.5"/>
<polyline points="437.5,95.75 455.5,85.5 473.5,77.4 491.5,89.0 509.5,97.0" fill="none" stroke="#111" stroke-width="1.2"/>
<polyline points="437.5,101.4 455.5,92.4 473.5,93.9 491.5,97.6 509.5,98.5" fill="none" stroke="#111" stroke-width="1.0" stroke-dasharray="2,1.6"/>
<polygon points="491.5,91.56 488.5,96.96 494.5,96.96" fill="#111"/>
<polygon points="437.5,97.80000000000001 441.1,101.4 437.5,105.0 433.9,101.4" fill="#111"/>
<polygon points="455.5,88.80000000000001 459.1,92.4 455.5,96.0 451.9,92.4" fill="#111"/>
<polygon points="473.5,90.30000000000001 477.1,93.9 473.5,97.5 469.9,93.9" fill="#111"/>
<polygon points="491.5,94.0 495.1,97.6 491.5,101.19999999999999 487.9,97.6" fill="#111"/>
<polygon points="509.5,94.9 513.1,98.5 509.5,102.1 505.9,98.5" fill="#111"/>
<circle cx="437.5" cy="95.75" r="3.3" fill="#111"/>
<circle cx="455.5" cy="85.5" r="3.3" fill="#111"/>
<circle cx="473.5" cy="77.4" r="3.3" fill="#111"/>
<circle cx="491.5" cy="89.0" r="3.3" fill="#111"/>
<circle cx="509.5" cy="97.0" r="3.3" fill="#111"/>
<rect x="434.3" y="79.5" width="6.4" height="6.4" fill="#fff" stroke="#111" stroke-width="0.9"/>
<rect x="452.3" y="45.5" width="6.4" height="6.4" fill="#fff" stroke="#111" stroke-width="0.9"/>
<rect x="470.3" y="54.4" width="6.4" height="6.4" fill="#fff" stroke="#111" stroke-width="0.9"/>
<rect x="488.3" y="97.2" width="6.4" height="6.4" fill="#fff" stroke="#111" stroke-width="0.9"/>
<rect x="506.3" y="101.0" width="6.4" height="6.4" fill="#fff" stroke="#111" stroke-width="0.9"/>
<circle cx="437.5" cy="69.0" r="3.7" fill="#fff" stroke="#111" stroke-width="0.9"/>
<circle cx="455.5" cy="40.8" r="3.7" fill="#fff" stroke="#111" stroke-width="0.9"/>
<circle cx="473.5" cy="55.4" r="3.7" fill="#fff" stroke="#111" stroke-width="0.9"/>
<circle cx="491.5" cy="88.3" r="3.7" fill="#fff" stroke="#111" stroke-width="0.9"/>
<circle cx="509.5" cy="97.2" r="3.7" fill="#fff" stroke="#111" stroke-width="0.9"/>
<line x1="437.5" y1="189.5" x2="437.5" y2="199" stroke="#666" stroke-width="0.8" />
<line x1="436.2" y1="189.5" x2="438.8" y2="189.5" stroke="#666" stroke-width="0.8" />
<line x1="436.2" y1="199" x2="438.8" y2="199" stroke="#666" stroke-width="0.8" />
<line x1="455.5" y1="176.5" x2="455.5" y2="200" stroke="#666" stroke-width="0.8" />
<line x1="454.2" y1="176.5" x2="456.8" y2="176.5" stroke="#666" stroke-width="0.8" />
<line x1="454.2" y1="200" x2="456.8" y2="200" stroke="#666" stroke-width="0.8" />
<line x1="473.5" y1="170.0" x2="473.5" y2="200" stroke="#666" stroke-width="0.8" />
<line x1="472.2" y1="170.0" x2="474.8" y2="170.0" stroke="#666" stroke-width="0.8" />
<line x1="472.2" y1="200" x2="474.8" y2="200" stroke="#666" stroke-width="0.8" />
<line x1="491.5" y1="167.6" x2="491.5" y2="200" stroke="#666" stroke-width="0.8" />
<line x1="490.2" y1="167.6" x2="492.8" y2="167.6" stroke="#666" stroke-width="0.8" />
<line x1="490.2" y1="200" x2="492.8" y2="200" stroke="#666" stroke-width="0.8" />
<line x1="509.5" y1="123.8" x2="509.5" y2="200" stroke="#666" stroke-width="0.8" />
<line x1="508.2" y1="123.8" x2="510.8" y2="123.8" stroke="#666" stroke-width="0.8" />
<line x1="508.2" y1="200" x2="510.8" y2="200" stroke="#666" stroke-width="0.8" />
<polyline points="437.5,197.1 455.5,195.2 473.5,193.4 491.5,196.7 509.5,199.0" fill="none" stroke="#777" stroke-width="0.9" stroke-dasharray="1,1.6"/>
<polyline points="437.5,192.0 455.5,187.8 473.5,184.6 491.5,182.6 509.5,160.7" fill="none" stroke="#888" stroke-width="0.8"/>
<polyline points="437.5,194.3 455.5,189.6 473.5,186.3 491.5,184.0 509.5,165.7" fill="none" stroke="#111" stroke-width="1.6"/>
<circle cx="437.5" cy="197.1" r="3.6" fill="#fff" stroke="#111" stroke-width="0.9"/>
<circle cx="455.5" cy="195.2" r="3.6" fill="#fff" stroke="#111" stroke-width="0.9"/>
<circle cx="473.5" cy="193.4" r="3.6" fill="#fff" stroke="#111" stroke-width="0.9"/>
<circle cx="491.5" cy="196.7" r="3.6" fill="#fff" stroke="#111" stroke-width="0.9"/>
<circle cx="509.5" cy="199.0" r="3.6" fill="#fff" stroke="#111" stroke-width="0.9"/>
<rect x="506.4" y="157.6" width="6.2" height="6.2" fill="#fff" stroke="#111" stroke-width="0.9"/>
<rect x="434.5" y="191.3" width="6.0" height="6.0" fill="#111" stroke="#111" stroke-width="0.9"/>
<circle cx="437.5" cy="194.3" r="3.6" fill="#111"/>
<rect x="452.5" y="186.6" width="6.0" height="6.0" fill="#111" stroke="#111" stroke-width="0.9"/>
<circle cx="455.5" cy="189.6" r="3.6" fill="#111"/>
<rect x="470.5" y="183.3" width="6.0" height="6.0" fill="#111" stroke="#111" stroke-width="0.9"/>
<circle cx="473.5" cy="186.3" r="3.6" fill="#111"/>
<rect x="488.5" y="181.0" width="6.0" height="6.0" fill="#111" stroke="#111" stroke-width="0.9"/>
<circle cx="491.5" cy="184.0" r="3.6" fill="#111"/>
<circle cx="509.5" cy="165.7" r="3.6" fill="#111"/>
</svg>
</body></html>
